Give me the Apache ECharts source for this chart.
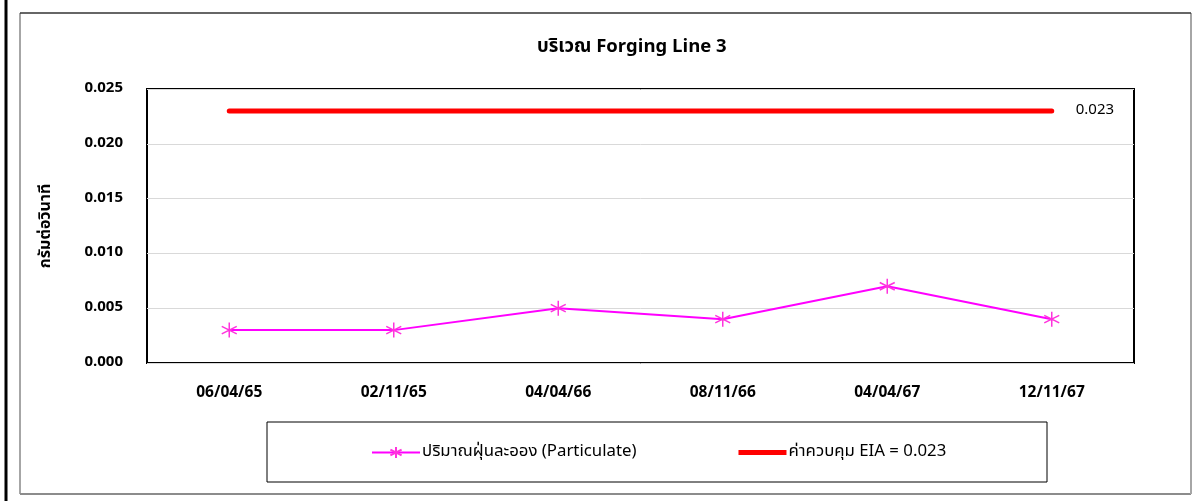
<!DOCTYPE html>
<html><head><meta charset="utf-8">
<script src="https://cdn.jsdelivr.net/npm/echarts@6/dist/echarts.min.js"></script>
<style>html,body{margin:0;padding:0;background:#fff}#c{width:1200px;height:501px}</style>
</head><body><div id="c"></div>
<script>
const categories = ['06/04/65','02/11/65','04/04/66','08/11/66','04/04/67','12/11/67'];
const particulate = [0.003,0.003,0.005,0.004,0.007,0.004];
const eiaLimit = [0.023,0.023,0.023,0.023,0.023,0.023];
const titleText = 'บริเวณ Forging Line 3';
const yAxisName = 'กรัมต่อวินาที';
const seriesNames = ['ปริมาณฝุ่นละออง (Particulate)','ค่าควบคุม EIA = 0.023'];
const FONT = "'Noto Sans Thai','Noto Sans','DejaVu Sans',sans-serif";
const star = 'path://M0,-10L0,10M-8.66,-5L8.66,5M-8.66,5L8.66,-5';
const chart = echarts.init(document.getElementById('c'), null, {renderer:'canvas'});
chart.setOption({
  animation:false,
  backgroundColor:'#fff',
  textStyle:{fontFamily:FONT},
  title:{text:titleText,left:537,top:39,padding:0,textStyle:{fontFamily:FONT,fontSize:18.5,fontWeight:'bold',color:'#000'}},
  grid:{left:147,right:66,top:89,bottom:138,show:true,borderColor:'#000',borderWidth:2,backgroundColor:'transparent'},
  legend:{
    data:[
      {name:seriesNames[0]},
      {name:seriesNames[1], icon:'path://M0,0L96,0L96,10L0,10Z'}
    ],
    left:371, top:444, padding:0, itemGap:102, itemWidth:48, itemHeight:14,
    textStyle:{fontFamily:FONT,fontSize:16.8,color:'#000',padding:[0,0,0,-3]}
  },
  graphic:[
    {type:'rect',shape:{x:6,y:-10,width:1200,height:600},style:{fill:'none',stroke:'#000',lineWidth:3},silent:true,z:-1},
    {type:'line',shape:{x1:20,y1:13,x2:20,y2:494},style:{stroke:'#a6a6a6',lineWidth:2},silent:true},
    {type:'line',shape:{x1:20,y1:494,x2:1191,y2:494},style:{stroke:'#8c8c8c',lineWidth:2},silent:true},
    {type:'line',shape:{x1:1191,y1:13,x2:1191,y2:494},style:{stroke:'#a6a6a6',lineWidth:2},silent:true},
    {type:'line',shape:{x1:20,y1:13,x2:1191,y2:13},style:{stroke:'#333',lineWidth:1.5},silent:true},
    {type:'rect',shape:{x:267,y:422,width:780,height:60},style:{fill:'none',stroke:'#000',lineWidth:1},silent:true}
  ],
  xAxis:{
    type:'category', data:categories, boundaryGap:true,
    axisLine:{show:false}, axisTick:{show:false},
    axisLabel:{fontFamily:FONT,fontSize:15.5,fontWeight:'bold',color:'#000',margin:23}
  },
  yAxis:{
    type:'value', min:0, max:0.025, interval:0.005,
    name:yAxisName, nameLocation:'middle', nameGap:92, nameRotate:90,
    nameTextStyle:{fontFamily:FONT,fontSize:16,fontWeight:'bold',color:'#000'},
    axisLine:{show:false}, axisTick:{show:false},
    axisLabel:{fontFamily:FONT,fontSize:15,fontWeight:'bold',color:'#000',margin:24,formatter:v=>v.toFixed(3)},
    splitLine:{lineStyle:{color:'#d9d9d9',width:1}}
  },
  series:[
    {name:seriesNames[0], type:'line', data:particulate, color:'#FF00FF',
     symbol:star, symbolSize:15, showSymbol:true,
     lineStyle:{color:'#FF00FF',width:2},
     itemStyle:{color:'transparent',borderColor:'#FF33DD',borderWidth:1.5}},
    {name:seriesNames[1], type:'line', data:eiaLimit, color:'#FF0000',
     symbol:'none', lineStyle:{color:'#FF0000',width:5,cap:'round'},
     endLabel:{show:true,formatter:p=>p.value.toFixed(3),fontFamily:FONT,fontSize:15,color:'#000',distance:24}}
  ]
});
</script></body></html>
